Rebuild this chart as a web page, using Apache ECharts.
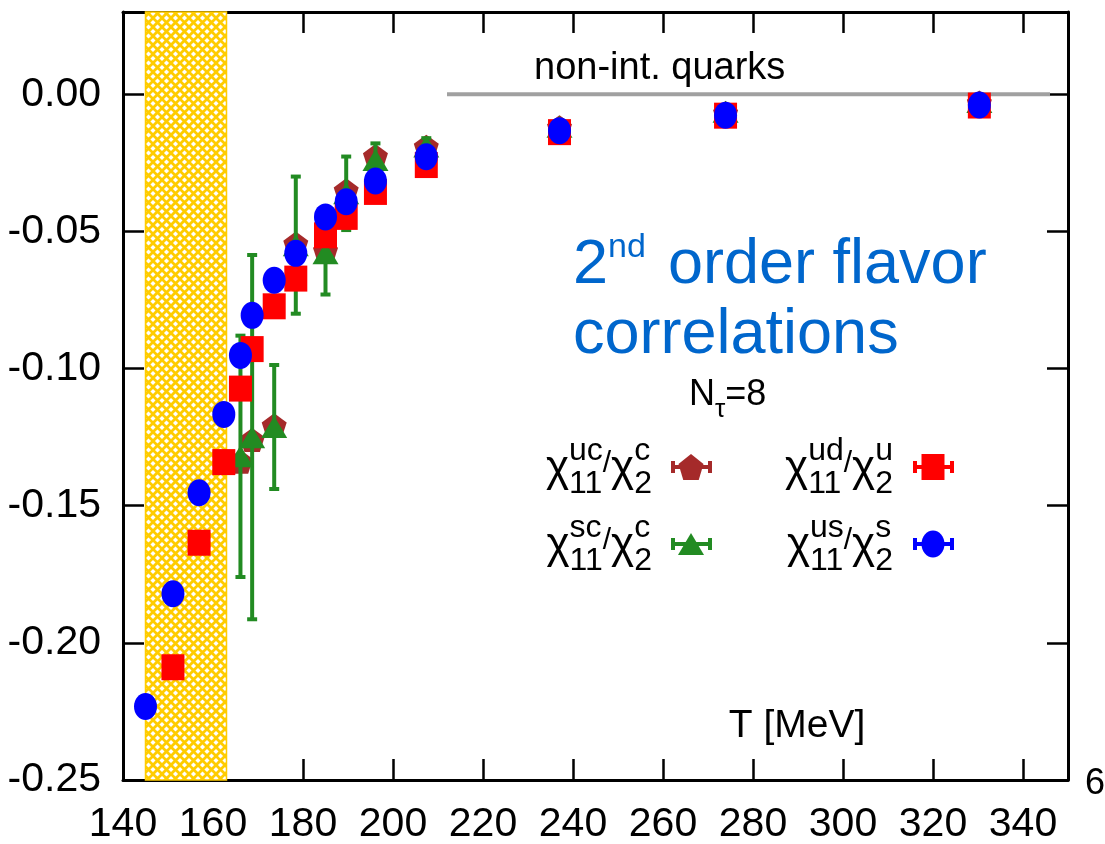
<!DOCTYPE html>
<html>
<head>
<meta charset="utf-8">
<script src="https://cdn.jsdelivr.net/npm/echarts@6/dist/echarts.min.js"></script>
<style>
  html, body { margin: 0; padding: 0; background: #fff; }
  #chart { width: 1105px; height: 844px; }
</style>
</head>
<body>
<div id="chart"></div>
<script>
// Temperatures [MeV] and flavor-correlation ratios, N_tau = 8
const T_us   = [145.0, 151.1, 156.9, 162.4, 166.1, 168.7, 173.6, 178.4, 185.0, 189.6, 196.1, 207.4, 237.0, 273.9, 330.3];
const chi_us = [-0.2232, -0.1821, -0.1453, -0.1167, -0.0952, -0.0806, -0.0678, -0.0580, -0.0447, -0.0392, -0.0316, -0.0228, -0.0133, -0.0076, -0.0039];

const T_ud   = [151.1, 156.9, 162.4, 166.1, 168.7, 173.6, 178.4, 185.0, 189.6, 196.1, 207.4, 237.0, 273.9, 330.3];
const chi_ud = [-0.2089, -0.1635, -0.1341, -0.1073, -0.0929, -0.0773, -0.0672, -0.0514, -0.0447, -0.0356, -0.0258, -0.0138, -0.0078, -0.0041];

const T_c    = [166.1, 168.7, 173.6, 178.4, 185.0, 189.6, 196.1, 207.4, 237.0, 273.9, 330.3];
const chi_uc = [-0.1340, -0.1260, -0.1207, -0.0544, -0.0570, -0.0350, -0.0225, -0.0191, -0.0120, -0.0068, -0.0030];
const chi_sc = [-0.1320, -0.1250, -0.1213, -0.0550, -0.0580, -0.0361, -0.0240, -0.0190, -0.0118, -0.0064, -0.0028];
const err_sc = [0.0440, 0.0664, 0.0226, 0.0250, 0.0150, 0.0134, 0.0061, 0.0030, 0.0020, 0.0015, 0.0010];

// Axis tick labels
const xTicks = [140, 160, 180, 200, 220, 240, 260, 280, 300, 320, 340];
const yTicks = [-0.25, -0.20, -0.15, -0.10, -0.05, 0.00];

// Crossover band and the free-quark limit
const tcBand = [145, 163];
const freeLine = [212, 346];
const freeValue = 0;

const FONT = '"Liberation Sans", Arial, Helvetica, sans-serif';
const BLUE_TXT = '#0066cc';
const C_UC = '#a52a2a', C_SC = '#228b22', C_UD = '#ff0000', C_US = '#0000ff';

const PENTAGON = 'path://M0,-1L0.951,-0.309L0.588,0.809L-0.588,0.809L-0.951,-0.309Z';
const ELLIPSE = 'path://M0,-1A1,1,0,1,1,0,1A1,1,0,1,1,0,-1Z';

// cross-hatched fill for the crossover region
const pat = document.createElement('canvas');
pat.width = 9; pat.height = 9;
(function () {
  const g = pat.getContext('2d');
  g.fillStyle = '#ffffff';
  g.fillRect(0, 0, 9, 9);
  g.strokeStyle = '#ffcc00';
  g.lineWidth = 2.8;
  g.beginPath();
  g.moveTo(-1, -1); g.lineTo(10, 10);
  g.moveTo(10, -1); g.lineTo(-1, 10);
  g.stroke();
})();

const measureCtx = document.createElement('canvas').getContext('2d');
function mw(s, size) {
  measureCtx.font = size + 'px ' + FONT;
  return measureCtx.measureText(s).width;
}
// text placed by its alphabetic baseline
function txt(s, x, baseline, size, color, align) {
  return {
    type: 'text', x: x, y: baseline - 0.3465 * size, z: 100,
    style: {
      text: s, fontSize: size, fontFamily: FONT, fill: color || '#000',
      textAlign: align || 'left', align: align || 'left',
      textVerticalAlign: 'middle', verticalAlign: 'middle'
    }
  };
}

function legendLabel(sup1, sup2, rightX, yb) {
  const CHI = 44, SUB = 32, SL = 30;
  const wChi = mw('\u03c7', CHI);
  const a = Math.max(mw('11', SUB), mw(sup1, SUB));
  const wSl = mw('/', SL);
  const b = Math.max(mw('2', SUB), mw(sup2, SUB));
  let x = rightX - (wChi + a + wSl + wChi + b);
  const out = [];
  out.push(txt('\u03c7', x, yb, CHI)); x += wChi;
  out.push(txt('11', x, yb + 11, SUB));
  out.push(txt(sup1, x, yb - 22, SUB)); x += a;
  out.push(txt('/', x, yb - 10, SL)); x += wSl;
  out.push(txt('\u03c7', x, yb, CHI)); x += wChi;
  out.push(txt('2', x, yb + 11, SUB));
  out.push(txt(sup2, x, yb - 22, SUB));
  return out;
}

function fitPoly(pts, cx, cy, w, h) {
  let x0 = Infinity, x1 = -Infinity, y0 = Infinity, y1 = -Infinity;
  pts.forEach(p => { x0 = Math.min(x0, p[0]); x1 = Math.max(x1, p[0]); y0 = Math.min(y0, p[1]); y1 = Math.max(y1, p[1]); });
  return pts.map(p => [cx - w / 2 + (p[0] - x0) / (x1 - x0) * w, cy - h / 2 + (p[1] - y0) / (y1 - y0) * h]);
}

function legendMarker(kind, cx, cy, color) {
  const out = [];
  const ls = { stroke: color, lineWidth: 4 };
  out.push({ type: 'line', z: 100, shape: { x1: cx - 18, y1: cy, x2: cx + 19, y2: cy }, style: ls });
  out.push({ type: 'line', z: 100, shape: { x1: cx - 18, y1: cy - 6, x2: cx - 18, y2: cy + 6 }, style: ls });
  out.push({ type: 'line', z: 100, shape: { x1: cx + 19, y1: cy - 6, x2: cx + 19, y2: cy + 6 }, style: ls });
  if (kind === 'pentagon') {
    out.push({ type: 'polygon', z: 101, shape: { points: fitPoly([[0, -1], [0.951, -0.309], [0.588, 0.809], [-0.588, 0.809], [-0.951, -0.309]], cx, cy, 25, 26) }, style: { fill: color } });
  } else if (kind === 'triangle') {
    out.push({ type: 'polygon', z: 101, shape: { points: fitPoly([[0, -1], [1, 1], [-1, 1]], cx, cy, 26, 22) }, style: { fill: color } });
  } else if (kind === 'rect') {
    out.push({ type: 'rect', z: 101, shape: { x: cx - 11.5, y: cy - 13, width: 23, height: 26 }, style: { fill: color } });
  } else {
    out.push({ type: 'ellipse', z: 101, shape: { cx: cx, cy: cy, rx: 11.5, ry: 13.5 }, style: { fill: color } });
  }
  return out;
}

const zip = (xs, ys) => xs.map((x, i) => [x, ys[i]]);
const isTick = (arr, v) => arr.some(t => Math.abs(t - v) < 1e-9);

const axisLineStyle = { show: true, onZero: false, lineStyle: { color: '#000', width: 3 } };
const axisTickStyle = { show: true, inside: true, length: 21, lineStyle: { color: '#000', width: 2.5 } };

let graphics = [];
// free-quark label
graphics.push(txt('non-int. quarks', 534, 82, 38));
// title
graphics.push(txt('2', 573, 287, 63, BLUE_TXT));
graphics.push(txt('nd', 573 + mw('2', 63), 259, 34, BLUE_TXT));
graphics.push(txt('order flavor', 668, 287, 63, BLUE_TXT));
graphics.push(txt('correlations', 573, 357, 63, BLUE_TXT));
// N_tau
graphics.push(txt('N', 689, 408, 36));
graphics.push(txt('\u03c4', 689 + mw('N', 36), 419, 26));
graphics.push(txt('=8', 689 + mw('N', 36) + mw('\u03c4', 26), 408, 36));
// axis title
graphics.push(txt('T [MeV]', 797, 740, 39, '#000', 'center'));
graphics.push(txt('6', 1085, 797, 36));
// legend
graphics = graphics.concat(
  legendLabel('uc', 'c', 652, 484), legendMarker('pentagon', 691, 467, C_UC),
  legendLabel('sc', 'c', 652, 561), legendMarker('triangle', 691, 544, C_SC),
  legendLabel('ud', 'u', 893, 484), legendMarker('rect', 933, 467, C_UD),
  legendLabel('us', 's', 893, 561), legendMarker('ellipse', 933, 544, C_US)
);

const chart = echarts.init(document.getElementById('chart'), null, { renderer: 'canvas' });
chart.setOption({
  animation: false,
  backgroundColor: '#fff',
  grid: { left: 123, right: 37, top: 12, bottom: 64, containLabel: false, outerBoundsMode: 'none' },
  xAxis: [
    {
      type: 'value', position: 'bottom', min: 140, max: 350, interval: 20,
      axisLine: axisLineStyle, axisTick: axisTickStyle, splitLine: { show: false },
      axisLabel: {
        show: true, margin: 24, fontSize: 41, fontFamily: FONT, color: '#000',
        formatter: v => isTick(xTicks, v) ? String(Math.round(v)) : ''
      }
    },
    {
      type: 'value', position: 'top', min: 140, max: 350, interval: 20,
      axisLine: axisLineStyle, axisTick: axisTickStyle, splitLine: { show: false },
      axisLabel: { show: false }
    }
  ],
  yAxis: [
    {
      type: 'value', position: 'left', min: -0.25, max: 0.03, interval: 0.05,
      axisLine: axisLineStyle, axisTick: axisTickStyle, splitLine: { show: false },
      axisLabel: {
        show: true, margin: 22, fontSize: 41, fontFamily: FONT, color: '#000',
        formatter: v => isTick(yTicks, v) ? (Math.abs(v) < 1e-9 ? '0.00' : v.toFixed(2)) : ''
      }
    },
    {
      type: 'value', position: 'right', min: -0.25, max: 0.03, interval: 0.05,
      axisLine: axisLineStyle, axisTick: axisTickStyle, splitLine: { show: false },
      axisLabel: { show: false }
    }
  ],
  series: [
    {
      name: 'non-int. quarks', type: 'line', z: 1, silent: true,
      data: [[freeLine[0], freeValue], [freeLine[1], freeValue]],
      symbol: 'none', lineStyle: { color: '#a0a0a0', width: 4 },
      markArea: {
        silent: true,
        itemStyle: { color: { image: pat, repeat: 'repeat' }, borderColor: '#ffcc00', borderWidth: 1.5 },
        data: [[{ xAxis: tcBand[0] }, { xAxis: tcBand[1] }]]
      }
    },
    {
      name: 'uc', type: 'scatter', z: 3, silent: true,
      data: zip(T_c, chi_uc), symbol: PENTAGON, symbolSize: [25, 24],
      itemStyle: { color: C_UC, opacity: 1 }
    },
    {
      name: 'sc err', type: 'custom', z: 4, silent: true,
      data: T_c.map((t, i) => [t, chi_sc[i], err_sc[i]]),
      renderItem: function (params, api) {
        const x = api.value(0), y = api.value(1), e = api.value(2);
        const top = api.coord([x, y + e]);
        const bot = api.coord([x, y - e]);
        const st = { stroke: C_SC, lineWidth: 4 };
        return {
          type: 'group',
          children: [
            { type: 'line', shape: { x1: top[0], y1: top[1], x2: bot[0], y2: bot[1] }, style: st },
            { type: 'line', shape: { x1: top[0] - 5, y1: top[1], x2: top[0] + 5, y2: top[1] }, style: st },
            { type: 'line', shape: { x1: bot[0] - 5, y1: bot[1], x2: bot[0] + 5, y2: bot[1] }, style: st }
          ]
        };
      }
    },
    {
      name: 'sc', type: 'scatter', z: 5, silent: true,
      data: zip(T_c, chi_sc), symbol: 'triangle', symbolSize: [26, 22],
      itemStyle: { color: C_SC, opacity: 1 }
    },
    {
      name: 'ud', type: 'scatter', z: 6, silent: true,
      data: zip(T_ud, chi_ud), symbol: 'rect', symbolSize: [23, 26],
      itemStyle: { color: C_UD, opacity: 1 }
    },
    {
      name: 'us', type: 'scatter', z: 7, silent: true,
      data: zip(T_us, chi_us), symbol: ELLIPSE, symbolSize: [23, 27],
      itemStyle: { color: C_US, opacity: 1 }
    }
  ],
  graphic: graphics
});
</script>
</body>
</html>
